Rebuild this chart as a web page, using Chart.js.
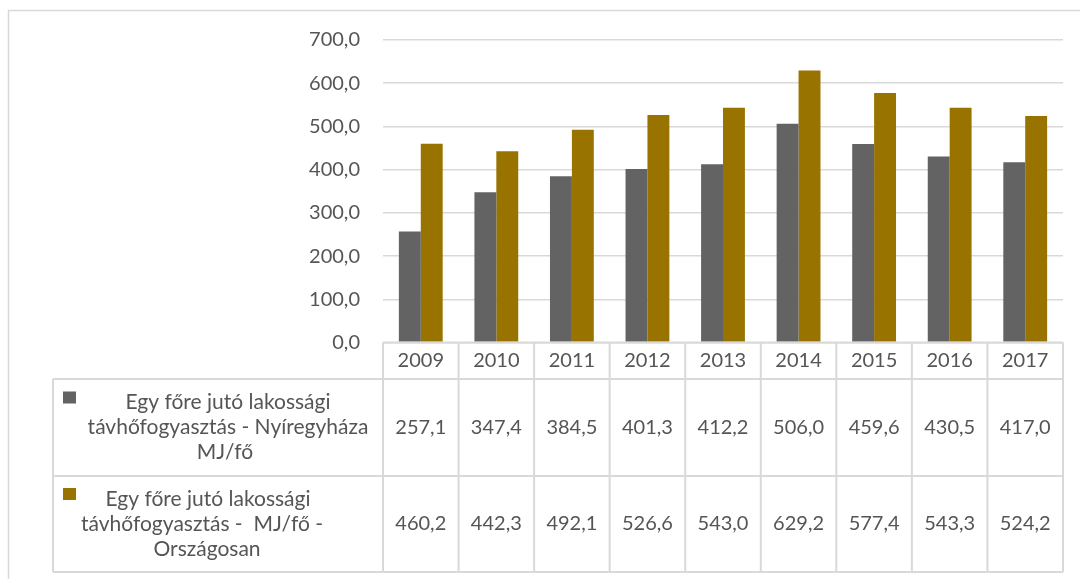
<!DOCTYPE html>
<html lang="hu">
<head>
<meta charset="UTF-8">
<title>Egy főre jutó lakossági távhőfogyasztás</title>
<script src="https://cdn.jsdelivr.net/npm/chart.js"></script>
<style>
  html, body { margin: 0; padding: 0; background: #fff; }
  #wrap { position: relative; width: 1080px; height: 579px; }
</style>
</head>
<body>
<div id="wrap"><canvas id="chart" width="1080" height="579"></canvas></div>
<script>
const years = ['2009', '2010', '2011', '2012', '2013', '2014', '2015', '2016', '2017'];
const nyiregyhaza = [257.1, 347.4, 384.5, 401.3, 412.2, 506.0, 459.6, 430.5, 417.0];
const orszagosan = [460.2, 442.3, 492.1, 526.6, 543.0, 629.2, 577.4, 543.3, 524.2];
const seriesLabels = [
  ['Egy főre jutó lakossági', 'távhőfogyasztás - Nyíregyháza', 'MJ/fő'],
  ['Egy főre jutó lakossági', 'távhőfogyasztás -  MJ/fő -', 'Országosan']
];
const yTicks = [0, 100, 200, 300, 400, 500, 600, 700];

const grayCol = '#636363';
const goldCol = '#997300';
const textCol = '#555555';
const lineCol = '#d9d9d9';
const FONT = 'Lato, "Open Sans", sans-serif';

const fmt = v => v.toFixed(1).replace('.', ',');

// data table under the plot, columns follow the x scale
const dataTable = {
  id: 'dataTable',
  afterDraw(chart) {
    const ctx = chart.ctx;
    const x = chart.scales.x;
    const n = years.length;
    const colW = (x.right - x.left) / n;
    const top = chart.chartArea.bottom;
    const rows = [top, 379, 476, 572];
    const tableLeft = 53;
    const series = [nyiregyhaza, orszagosan];
    const colors = [grayCol, goldCol];

    ctx.save();
    ctx.strokeStyle = lineCol;
    ctx.lineWidth = 2;
    ctx.beginPath();
    // header row
    ctx.moveTo(x.left, rows[0]); ctx.lineTo(x.right, rows[0]);
    for (let i = 0; i <= n; i++) {
      const cx = x.left + i * colW;
      ctx.moveTo(cx, rows[0]); ctx.lineTo(cx, rows[3]);
    }
    for (let r = 1; r < rows.length; r++) {
      ctx.moveTo(tableLeft, rows[r]); ctx.lineTo(x.right, rows[r]);
    }
    ctx.moveTo(tableLeft, rows[1]); ctx.lineTo(tableLeft, rows[3]);
    ctx.stroke();

    ctx.fillStyle = textCol;
    ctx.font = '20px ' + FONT;
    ctx.textAlign = 'center';
    ctx.textBaseline = 'middle';
    years.forEach((y, i) => {
      const cx = x.getPixelForValue(i);
      ctx.fillText(y, cx, (rows[0] + rows[1]) / 2);
      series.forEach((s, k) => {
        ctx.fillText(fmt(s[i]), cx, (rows[k + 1] + rows[k + 2]) / 2);
      });
    });

    // series label cells with legend keys
    ctx.font = '21px ' + FONT;
    const lineCenters = [[228, 228, 225], [208, 202, 207]];
    series.forEach((s, k) => {
      const mid = (rows[k + 1] + rows[k + 2]) / 2;
      ctx.fillStyle = colors[k];
      ctx.fillRect(63, mid - 36, 13, 12);
      ctx.fillStyle = textCol;
      seriesLabels[k].forEach((line, j) => {
        ctx.fillText(line, lineCenters[k][j], mid - 25 + j * 25);
      });
    });

    // outer chart border
    ctx.strokeStyle = lineCol;
    ctx.lineWidth = 1.5;
    ctx.beginPath();
    ctx.moveTo(8.5, 585); ctx.lineTo(8.5, 10.5); ctx.lineTo(1085, 10.5);
    ctx.stroke();
    ctx.restore();
  }
};

new Chart(document.getElementById('chart'), {
  type: 'bar',
  data: {
    labels: years,
    datasets: [
      { label: seriesLabels[0].join(' '), data: nyiregyhaza, backgroundColor: grayCol, borderWidth: 0 },
      { label: seriesLabels[1].join(' '), data: orszagosan, backgroundColor: goldCol, borderWidth: 0 }
    ]
  },
  options: {
    responsive: false,
    animation: false,
    layout: { padding: { left: 0, top: 40, right: 17, bottom: 236.5 } },
    datasets: { bar: { categoryPercentage: 0.58, barPercentage: 1.0 } },
    plugins: { legend: { display: false }, tooltip: { enabled: false } },
    scales: {
      x: { display: false },
      y: {
        min: 0, max: 700,
        afterFit(s) { s.width = 383; },
        afterBuildTicks(s) { s.ticks = yTicks.map(v => ({ value: v })); },
        grid: { color: lineCol, lineWidth: 1.5, drawTicks: false },
        border: { display: false },
        ticks: {
          padding: 23,
          color: textCol,
          font: { family: FONT, size: 20 },
          callback: v => fmt(v)
        }
      }
    }
  },
  plugins: [dataTable]
});
</script>
</body>
</html>
